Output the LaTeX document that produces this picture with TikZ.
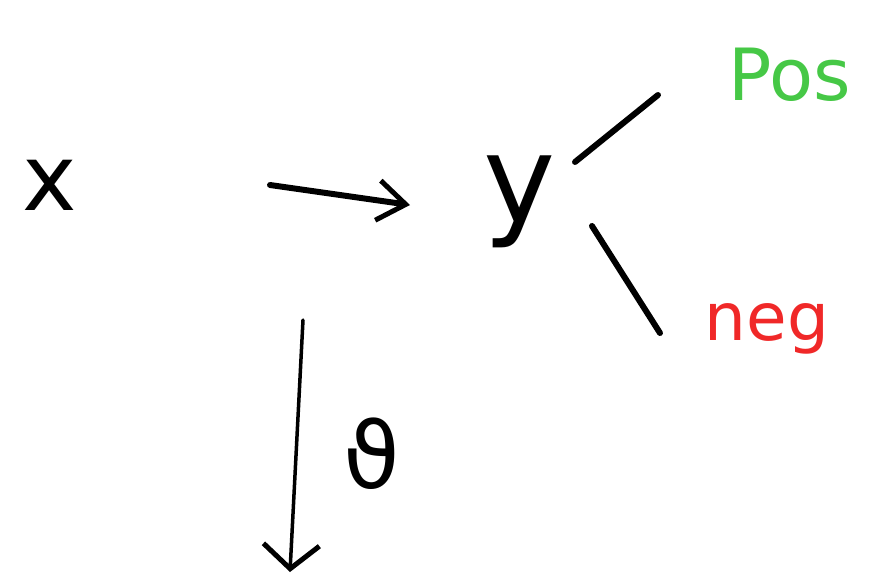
\documentclass[tikz,border=0pt]{standalone}
\usepackage{fontspec}
\setmainfont{DejaVu Sans}
\usetikzlibrary{arrows.meta}
\definecolor{posgreen}{RGB}{70,200,70}
\definecolor{negred}{RGB}{240,40,40}
\begin{document}
\begin{tikzpicture}[x=1pt,y=-1pt,
  pen/.style={line width=6pt,line cap=round,line join=round,black},
  thinpen/.style={line width=3.5pt,line cap=round,line join=round,black},
  bigtxt/.style={inner sep=0pt,anchor=base}]
\useasboundingbox (0,0) rectangle (871,587);
\node[bigtxt,font=\fontsize{92}{92}\selectfont] (x) at (50,210) {x};
\node[bigtxt,font=\fontsize{122}{122}\selectfont] (y) at (520,222) {y};
\node[bigtxt,text=posgreen,font=\fontsize{72}{72}\selectfont] (pos) at (790,100) {Pos};
\node[bigtxt,text=negred,font=\fontsize{66}{66}\selectfont] (neg) at (767,340) {neg};
\node[bigtxt,font=\fontsize{92}{92}\selectfont] (th) at (372,488) {ϑ};
\coordinate (a1) at (270,185);
\coordinate (a2) at (410,205);
\draw[pen,-{Straight Barb[length=28pt,width=40pt,line width=5pt]}] (a1) -- (a2);
\coordinate (p1) at (575,162);
\coordinate (p2) at (658,95);
\draw[pen] (p1) -- (p2);
\coordinate (n1) at (592,226);
\coordinate (n2) at (660,333);
\draw[pen] (n1) -- (n2);
\coordinate (d1) at (303,320);
\coordinate (d2) at (290,572);
\draw[thinpen,-{Straight Barb[length=24pt,width=56pt,line width=5pt]}] (d1) -- (d2);
\end{tikzpicture}
\end{document}
